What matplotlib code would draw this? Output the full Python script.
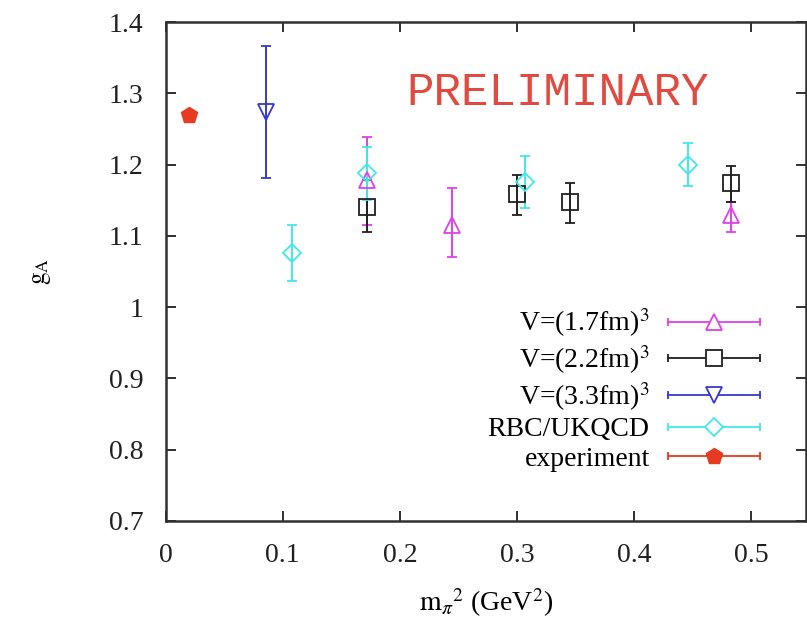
import numpy as np
import matplotlib
matplotlib.use('Agg')
import matplotlib.pyplot as plt
from matplotlib.lines import Line2D
from matplotlib.legend_handler import HandlerLine2D

plt.rcParams['font.family'] = ['Liberation Serif', 'DejaVu Serif']
plt.rcParams['mathtext.fontset'] = 'stix'

# V=(1.7fm)^3
x17 = [0.172, 0.245, 0.483]
y17 = [1.178, 1.115, 1.129]
lo17 = [1.115, 1.070, 1.105]
hi17 = [1.239, 1.167, 1.148]

# V=(2.2fm)^3
x22 = [0.172, 0.300, 0.345, 0.483]
y22 = [1.141, 1.159, 1.147, 1.174]
lo22 = [1.105, 1.129, 1.118, 1.148]
hi22 = [1.178, 1.185, 1.174, 1.198]

# V=(3.3fm)^3
x33 = [0.086]
y33 = [1.274]
lo33 = [1.181]
hi33 = [1.366]

# RBC/UKQCD
xrbc = [0.108, 0.172, 0.307, 0.446]
yrbc = [1.076, 1.188, 1.176, 1.199]
lorbc = [1.037, 1.150, 1.139, 1.170]
hirbc = [1.115, 1.225, 1.212, 1.230]

# experiment
xexp = [0.0195]
yexp = [1.2695]

labels = ['V=(1.7fm)$^3$', 'V=(2.2fm)$^3$', 'V=(3.3fm)$^3$', 'RBC/UKQCD', 'experiment']
colors = ['#e040e8', '#202020', '#3838c8', '#40e8ec', '#e83a20']
markers = ['^', 's', 'v', 'D', 'p']

fig = plt.figure(figsize=(8.07, 6.21), dpi=100)
ax = fig.add_axes([165.7/807, 1-521/621, (806-165.7)/807, (521-22)/621])

series = [(x17, y17, lo17, hi17), (x22, y22, lo22, hi22), (x33, y33, lo33, hi33), (xrbc, yrbc, lorbc, hirbc)]
msizes = [11, 11, 11, 9]
for (x, y, lo, hi), c, m, ms in zip(series, colors, markers, msizes):
    y = np.array(y)
    err = [y - np.array(lo), np.array(hi) - y]
    ax.errorbar(x, y, yerr=err, fmt=m, color=c, mfc='none', mec=c, ms=ms,
                mew=1.3, elinewidth=1.4, capsize=3.5, capthick=1.4)
ax.plot(xexp, yexp, 'p', color=colors[4], ms=12)

ax.set_xlim(0, 0.547)
ax.set_ylim(0.7, 1.4)
ax.set_xticks([0, 0.1, 0.2, 0.3, 0.4, 0.5])
ax.set_xticklabels(['0', '0.1', '0.2', '0.3', '0.4', '0.5'])
ax.set_yticks([0.7, 0.8, 0.9, 1.0, 1.1, 1.2, 1.3, 1.4])
ax.set_yticklabels(['0.7', '0.8', '0.9', '1', '1.1', '1.2', '1.3', '1.4'])
ax.tick_params(direction='in', top=True, right=True, length=7, width=1.3,
               labelsize=20, colors='#202020')
ax.tick_params(axis='x', pad=16)
ax.tick_params(axis='y', pad=16)
for s in ax.spines.values():
    s.set_linewidth(1.8)
    s.set_color('#303030')

ax.set_xlabel(r'$\mathrm{m}_\pi{}^2$ (GeV$^2$)', fontsize=20, labelpad=13)
ax.set_ylabel(r'$\mathrm{g}_\mathrm{A}$', fontsize=18, rotation=90, labelpad=40)

ax.text(0.335, 1.3, 'PRELIMINARY', fontsize=33, color='#e04a40',
        family='Liberation Mono', ha='center', va='center')

handles = []
hmap = {}
for c, m, ms in zip(colors, markers, msizes + [12]):
    capline = Line2D([], [], color=c, marker='|', ms=6, lw=1.3, mew=1.3)
    if m == 'p':
        mk = Line2D([], [], color=c, marker=m, ms=12, ls='none')
    else:
        mk = Line2D([], [], color=c, marker=m, mfc='white', mec=c, ms=ms, mew=1.3, ls='none')
    hmap[capline] = HandlerLine2D(numpoints=2)
    handles.append((capline, mk))

leg = ax.legend(handles, labels, handler_map=hmap, loc='lower right',
                bbox_to_anchor=(768/807, 1-472/621), bbox_transform=fig.transFigure,
                frameon=False, markerfirst=False, fontsize=20, borderpad=0,
                borderaxespad=0, handlelength=3.9, handletextpad=0.36,
                labelspacing=0.15)

fig.savefig('out.png', dpi=100)
